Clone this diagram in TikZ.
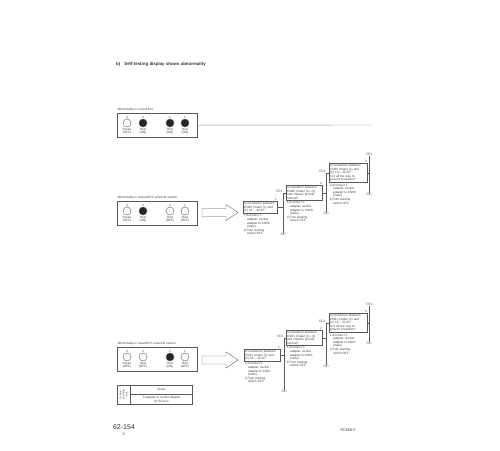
\documentclass[tikz,border=0pt]{standalone}
\usepackage{fontspec}
\setmainfont{Liberation Sans}
\newfontfamily\serifnt{Liberation Serif}
\newfontfamily\symfnt{DejaVu Sans}
\usetikzlibrary{calc,positioning}

\begin{document}
\begin{tikzpicture}[x=1pt,y=-1pt,
  ink/.style={draw=black!65,line width=0.4pt},
  txt/.style={text=black!75,font=\fontsize{3.1}{3.6}\selectfont,inner sep=0.3pt},
  yn/.style={text=black!75,font=\serifnt\fontsize{3.4}{4}\selectfont,inner sep=0.4pt},
  qbox/.style={ink,txt,align=left,inner sep=1pt,anchor=north west},
  note/.style={txt,anchor=north west,inner sep=0.6pt},
  lamp/.style={circle,ink,minimum size=8pt,inner sep=0},
  panel/.style={ink,minimum width=80pt,minimum height=24pt,anchor=north west,inner sep=0}]
\path[fill=white,use as bounding box] (0,0) rectangle (500,450);

\node[anchor=west,text=black!80,font=\bfseries\fontsize{4.4}{5}\selectfont,inner sep=0] (title) at (116,64.5) {b)\hspace{4pt}Self-testing display shows abnormality};

% panel 1: control box
\node[panel] (p1) at (117,113) {};
\node[txt,anchor=south west] (p1t) at ($(p1.north west)+(0,-1)$) {Abnormality in control box};
\foreach \x/\n/\f/\c/\s [count=\i] in {127/4/white/Green/OFF,143/3/black!85/Red/ON,170/2/black!85/Red/ON,185/1/black!85/Red/ON}{
  \node[txt] (p1n\i) at (\x,117) {\n};
  \node[lamp,fill=\f] (p1l\i) at (\x,123) {};
  \node[txt,align=center] (p1c\i) at (\x,131.3) {\c\\(\s)};
}
\coordinate (p1end) at (372,125);
\draw[ink,draw=black!45] (p1.east) -- (p1end);

% panel 2: torque/EPC solenoid
\node[panel] (p2) at (117,201) {};
\node[txt,anchor=south west] (p2t) at ($(p2.north west)+(0,-1)$) {Abnormality in torque/EPC solenoid system};
\foreach \x/\n/\f/\c/\s [count=\i] in {127/4/white/Green/OFF,143/3/black!85/Red/ON,170/2/white/Red/OFF,185/1/white/Red/OFF}{
  \node[txt] (p2n\i) at (\x,205) {\n};
  \node[lamp,fill=\f] (p2l\i) at (\x,211) {};
  \node[txt,align=center] (p2c\i) at (\x,219.3) {\c\\(\s)};
}
\coordinate (ar1) at (202,212.5);
\draw[ink,fill=white] (ar1) ++(0,-4) -- ++(24,0) -- ++(0,-4) -- ++(12,8) -- ++(-12,8) -- ++(0,-4) -- ++(-24,0) -- cycle;

\node[qbox,text width=32pt] (A) at (243,201) {Is resistance between\\CN60 (male) (1) and\\(2) 10 – 30 Ω?};
\node[qbox,text width=34pt] (B) at (286,185) {Is insulation between\\CN60 (male) (1), (2)\\and chassis ground\\normal?};
\node[qbox,text width=36pt] (C) at (329,163) {Is resistance between\\CN60 (male) (1) and\\(2) 10 – 20 Ω?\\Is it all the way to\\ground insulation?};
\foreach \b/\k in {A/1,B/2,C/3}{
  \node[txt,anchor=south east] (\b-k) at (\b.north east) {\k};
  \node[note] (\b-note) at (\b.south west) {\begin{tabular}{@{}l@{\,}l@{}}1) & Connect T-\\ & adapter, socket\\ & adapter to CN60\\ & (male).\\2) & Turn starting\\ & switch OFF.\end{tabular}};
}
\coordinate (A-no) at (283,233);
\draw[ink] (A.east) -- (A.east -| A-no);
\draw[ink] (A-no) -- (A-no |- B.west) coordinate (A-yes) -- (B.west);
\node[yn,anchor=south east] (A-y) at (A-yes) {YES};
\node[yn,anchor=north] (A-n) at (A-no) {NO};
\coordinate (B-no) at (326,212);
\draw[ink] (B.east) -- (B.east -| B-no);
\draw[ink] (B-no) -- (B-no |- C.west) coordinate (B-yes) -- (C.west);
\node[yn,anchor=south east] (B-y) at (B-yes) {YES};
\node[yn,anchor=north] (B-n) at (B-no) {NO};
\coordinate (C-no) at (369,193);
\coordinate (C-top) at (369,156);
\draw[ink] (C.east) -- (C.east -| C-no);
\draw[ink] (C-no) -- (C-top);
\node[yn,anchor=south] (C-y) at (C-top) {YES};
\node[yn,anchor=north] (C-n) at (C-no) {NO};

% panel 3: travel/EPC solenoid
\node[panel] (p3) at (117,347) {};
\node[txt,anchor=south west] (p3t) at ($(p3.north west)+(0,-1)$) {Abnormality in travel/EPC solenoid system};
\foreach \x/\n/\f/\c/\s [count=\i] in {127/4/white/Green/OFF,143/3/white/Red/OFF,170/2/black!85/Red/ON,185/1/white/Red/OFF}{
  \node[txt] (p3n\i) at (\x,351) {\n};
  \node[lamp,fill=\f] (p3l\i) at (\x,357) {};
  \node[txt,align=center] (p3c\i) at (\x,365.3) {\c\\(\s)};
}
\coordinate (ar2) at (202,360);
\draw[ink,fill=white] (ar2) ++(0,-4) -- ++(24,0) -- ++(0,-4) -- ++(12,8) -- ++(-12,8) -- ++(0,-4) -- ++(-24,0) -- cycle;

% tools table
\node[ink,minimum width=75pt,minimum height=19pt,anchor=north west,inner sep=0] (tb) at (117,385) {};
\draw[ink] ($(tb.north west)+(13,0)$) -- ($(tb.south west)+(13,0)$);
\draw[ink] ($(tb.north west)+(13,9)$) -- ($(tb.north east)+(0,9)$);
\node[txt,rotate=90,align=center,font=\fontsize{2.6}{3}\selectfont] (tbh) at ($(tb.west)+(6.5,0)$) {Trouble-\\shooting\\tools};
\node[txt] (tbt) at ($(tb.north east)+(-31,4.5)$) {Tester};
\node[txt,align=center] (tbs) at ($(tb.south east)+(-31,-5)$) {T-adapter or socket adapter\\for EC box};

\node[qbox,text width=34pt] (D) at (244,349) {Is resistance between\\CN61 (male) (1) and\\(2) 10 – 30 Ω?};
\node[qbox,text width=34pt] (E) at (286,330) {Is insulation between\\CN61 (male) (1), (2)\\and chassis ground\\normal?};
\node[qbox,text width=36pt] (F) at (329,313) {Is resistance between\\CN61 (male) (1) and\\(2) 10 – 20 Ω?\\Is it all the way to\\ground insulation?};
\foreach \b/\k in {D/1,E/2,F/3}{
  \node[txt,anchor=south east] (\b-k) at (\b.north east) {\k};
  \node[note] (\b-note) at (\b.south west) {\begin{tabular}{@{}l@{\,}l@{}}1) & Connect T-\\ & adapter, socket\\ & adapter to CN61\\ & (male).\\2) & Turn starting\\ & switch OFF.\end{tabular}};
}
\coordinate (D-no) at (284,390);
\draw[ink] (D.east) -- (D.east -| D-no);
\draw[ink] (D-no) -- (D-no |- E.west) coordinate (D-yes) -- (E.west);
\node[yn,anchor=south east] (D-y) at (D-yes) {YES};
\node[yn,anchor=north] (D-n) at (D-no) {NO};
\coordinate (E-no) at (326,365);
\draw[ink] (E.east) -- (E.east -| E-no);
\draw[ink] (E-no) -- (E-no |- F.west) coordinate (E-yes) -- (F.west);
\node[yn,anchor=south east] (E-y) at (E-yes) {YES};
\node[yn,anchor=north] (E-n) at (E-no) {NO};
\coordinate (F-no) at (369,342);
\coordinate (F-top) at (369,306);
\draw[ink] (F.east) -- (F.east -| F-no);
\draw[ink] (F-no) -- (F-top);
\node[yn,anchor=south] (F-y) at (F-top) {YES};
\node[yn,anchor=north] (F-n) at (F-no) {NO};

% page foot
\node[text=black!80,font=\fontsize{7}{8}\selectfont,inner sep=0] (pg) at (124,427) {62-154};
\node[text=black!75,font=\symfnt\fontsize{3.5}{4}\selectfont,inner sep=0] (pgc) at (124,434) {①};
\node[text=black!80,font=\fontsize{3.8}{4}\selectfont,inner sep=0] (mdl) at (348,430) {PC650-3};
\end{tikzpicture}
\end{document}
